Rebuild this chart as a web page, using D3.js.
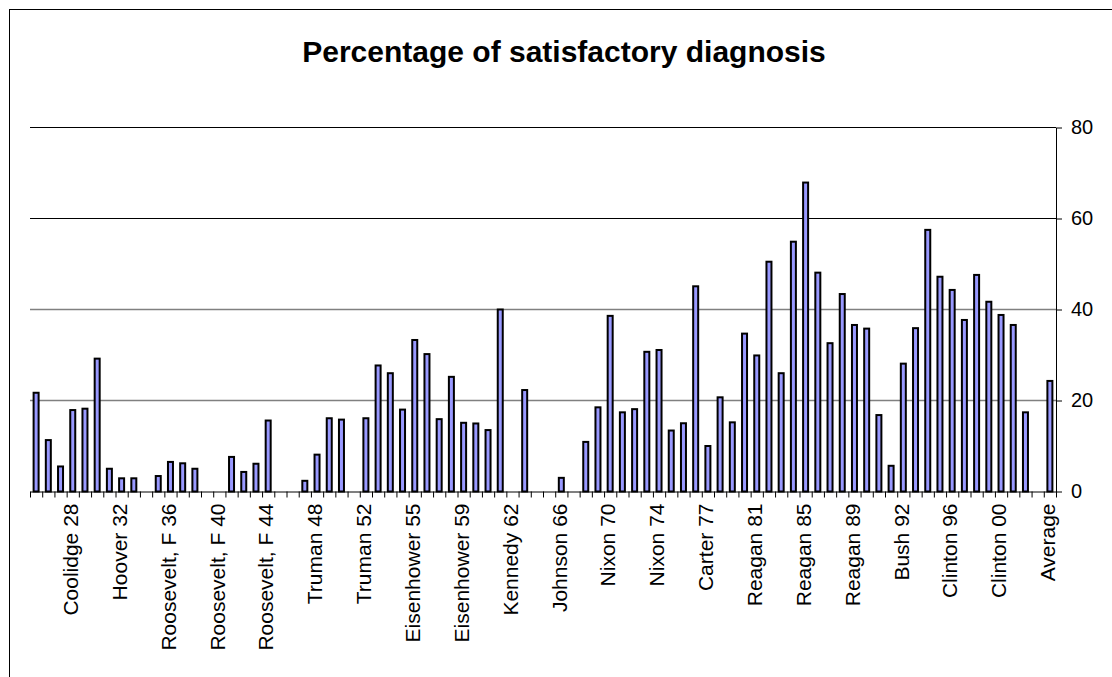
<!DOCTYPE html>
<html><head><meta charset="utf-8">
<script src="https://cdn.jsdelivr.net/npm/d3@7"></script>
<style>body{margin:0;background:#fff} svg{display:block} text{font-family:"Liberation Sans",Arial,sans-serif;fill:#000}</style>
</head><body><svg id="c" width="1112" height="677"></svg>
<script>
const title = "Percentage of satisfactory diagnosis";
const categories = [
 "Coolidge 25","Coolidge 26","Coolidge 27","Coolidge 28","Hoover 29","Hoover 30","Hoover 31","Hoover 32",
 "Roosevelt, F 33","Roosevelt, F 34","Roosevelt, F 35","Roosevelt, F 36","Roosevelt, F 37","Roosevelt, F 38","Roosevelt, F 39","Roosevelt, F 40",
 "Roosevelt, F 41","Roosevelt, F 42","Roosevelt, F 43","Roosevelt, F 44","Roosevelt, F 45","Truman 46","Truman 47","Truman 48",
 "Truman 49","Truman 50","Truman 51","Truman 52","Truman 53","Eisenhower 53","Eisenhower 54","Eisenhower 55",
 "Eisenhower 56","Eisenhower 57","Eisenhower 58","Eisenhower 59","Eisenhower 60","Eisenhower 61","Kennedy 61","Kennedy 62",
 "Kennedy 63","Johnson 64","Johnson 65","Johnson 66","Johnson 67","Johnson 68","Nixon 69","Nixon 70",
 "Nixon 71","Nixon 72","Nixon 73","Nixon 74","Ford 74","Ford 75","Ford 76","Carter 77",
 "Carter 78","Carter 79","Carter 80","Reagan 81","Reagan 82","Reagan 83","Reagan 84","Reagan 85",
 "Reagan 86","Reagan 87","Reagan 88","Reagan 89","Bush 89","Bush 90","Bush 91","Bush 92",
 "Clinton 93","Clinton 94","Clinton 95","Clinton 96","Clinton 97","Clinton 98","Clinton 99","Clinton 00",
 "Clinton 01","Bush 01","Bush 02","Average"
];
const values = [
 21.7,11.3,5.5,17.9,18.2,29.2,5.0,2.9,
 2.9,null,3.4,6.5,6.2,5.0,null,null,
 7.6,4.3,6.1,15.6,null,null,2.35,8.1,
 16.1,15.8,null,16.1,27.7,26.0,18.0,33.3,
 30.2,15.9,25.2,15.1,14.95,13.5,40.0,null,
 22.3,null,null,3.0,null,10.9,18.5,38.6,
 17.4,18.1,30.7,31.1,13.4,15.0,45.1,10.0,
 20.7,15.2,34.7,29.9,50.5,26.0,54.9,67.9,
 48.1,32.6,43.4,36.6,35.8,16.8,5.65,28.1,
 35.9,57.5,47.2,44.3,37.7,47.6,41.7,38.8,
 36.6,17.4,null,24.3
];
const tickLabels = ["Coolidge 28","Hoover 32","Roosevelt, F 36","Roosevelt, F 40","Roosevelt, F 44","Truman 48","Truman 52",
 "Eisenhower 55","Eisenhower 59","Kennedy 62","Johnson 66","Nixon 70","Nixon 74","Carter 77","Reagan 81","Reagan 85",
 "Reagan 89","Bush 92","Clinton 96","Clinton 00","Average"];
const yTicks = [0,20,40,60,80];

const svg = d3.select("#c");
const m = {left:30, right:1056, top:127.5, bottom:491.5};

svg.append("rect").attr("x",9.5).attr("y",9.5).attr("width",1200).attr("height",1000)
  .attr("fill","#fff").attr("stroke","#000").attr("stroke-width",1);

svg.append("text").attr("x",564).attr("y",62)
  .attr("text-anchor","middle").attr("font-size",30).attr("font-weight","bold").text(title);

const x = d3.scaleBand().domain(categories).range([m.left, m.right]);
const xi = d3.scaleLinear().domain([0, categories.length]).range([m.left, m.right]);
const y = d3.scaleLinear().domain([0,80]).range([m.bottom, m.top]);

// gridlines
svg.append("g").selectAll("line").data(yTicks.filter(d=>d>0)).join("line")
  .attr("x1",m.left).attr("x2",m.right).attr("y1",d=>y(d)).attr("y2",d=>y(d))
  .attr("stroke",d=>d<=40?"#808080":"#000").attr("stroke-width",d=>d<=40?1.6:1);

// bars
const data = values.map((v,i)=>({c:categories[i], v})).filter(d=>d.v!=null);
svg.append("g").selectAll("rect").data(data).join("rect")
  .attr("x",d=>x(d.c)+x.bandwidth()/2-2.5).attr("width",5)
  .attr("y",d=>y(d.v)).attr("height",d=>y(0)-y(d.v))
  .attr("fill","#9999FF").attr("stroke","#000").attr("stroke-width",2);

// x axis line + boundary ticks
const xa = svg.append("g").attr("transform",`translate(0,${m.bottom})`)
  .call(d3.axisBottom(xi).tickValues(d3.range(0,categories.length+1)).tickSize(6).tickSizeOuter(0).tickFormat(""));
xa.selectAll("path,line").attr("stroke","#000");

// x labels
const xl = svg.append("g").attr("transform",`translate(0,${m.bottom})`)
  .call(d3.axisBottom(x).tickValues(tickLabels).tickSize(0));
xl.select(".domain").remove();
xl.selectAll("text").attr("x",null).attr("y",null).attr("dy","0.25em")
  .attr("transform","translate(0,12) rotate(-90)")
  .attr("text-anchor","end").attr("font-size",21).attr("font-family",null).attr("fill","#000");

// right y axis
const ya = svg.append("g").attr("transform",`translate(${m.right},0)`)
  .call(d3.axisRight(y).tickValues(yTicks).tickSize(6).tickSizeOuter(0).tickPadding(9));
ya.selectAll("path,line").attr("stroke","#000");
ya.selectAll("text").attr("font-size",20).attr("font-family",null).attr("fill","#000");
</script></body></html>
